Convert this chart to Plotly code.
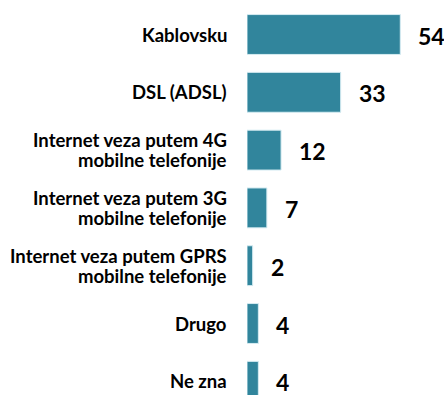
import plotly.graph_objects as go

# Internet connection type, share of households (%)
categories = [
    "Kablovsku",
    "DSL (ADSL)",
    "Internet veza putem 4G<br>mobilne telefonije",
    "Internet veza putem 3G<br>mobilne telefonije",
    "Internet veza putem GPRS<br>mobilne telefonije",
    "Drugo",
    "Ne zna",
]
values = [54, 33, 12, 7, 2, 4, 4]

BAR_COLOR = "#31859C"
FONT = "Lato"

positions = list(range(len(categories)))

fig = go.Figure(
    go.Bar(
        x=values,
        y=positions,
        orientation="h",
        width=0.69,
        marker=dict(color=BAR_COLOR, line=dict(color="#d6ecf2", width=1)),
        hoverinfo="skip",
    )
)

annotations = []
for pos, label, val in zip(positions, categories, values):
    # value to the right of each bar
    annotations.append(
        dict(
            x=val, y=pos, xref="x", yref="y",
            text=f"<b>{val}</b>", showarrow=False,
            xanchor="left", yanchor="middle", xshift=16, yshift=-1,
            font=dict(family=FONT, size=23, color="#000000"),
        )
    )
    # category label to the left of the axis, one annotation per line
    lines = label.split("<br>")
    n = len(lines)
    for k, line in enumerate(lines):
        offset = (k - (n - 1) / 2) * 20
        annotations.append(
            dict(
                x=0, y=pos, xref="x", yref="y",
                text=f"<b>{line}</b>", showarrow=False,
                xanchor="right", yanchor="middle", xshift=-18, yshift=-offset,
                font=dict(family=FONT, size=18.5, color="#000000"),
            )
        )

fig.update_layout(
    width=444,
    height=395,
    margin=dict(l=247, r=0, t=0, b=0),
    paper_bgcolor="white",
    plot_bgcolor="white",
    showlegend=False,
    annotations=annotations,
    xaxis=dict(range=[0, 69.4], visible=False, fixedrange=True),
    yaxis=dict(range=[6.237, -0.597], visible=False, fixedrange=True),
)

fig.write_html("out.html")
